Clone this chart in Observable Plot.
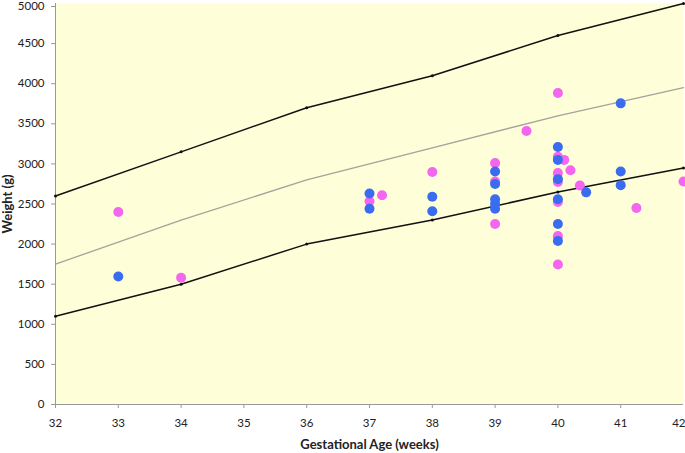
<!DOCTYPE html>
<html>
<head>
<meta charset="utf-8">
<script src="https://cdn.jsdelivr.net/npm/d3@7"></script>
<script src="https://cdn.jsdelivr.net/npm/@observablehq/plot@0.6"></script>
<style>
  html, body { margin: 0; padding: 0; background: #ffffff; }
  #chart svg { display: block; overflow: visible; }
  #chart [aria-label="x-axis label"] text,
  #chart [aria-label="y-axis label"] text { font-weight: bold; font-size: 13px; }
</style>
</head>
<body>
<div id="chart"></div>
<script>
// Reference curves (weeks -> grams)
const refWeeks = [32, 34, 36, 38, 40, 42];
const upperCurve = [2600, 3150, 3700, 4100, 4600, 5000];
const middleCurve = [1750, 2300, 2800, 3200, 3600, 3950];
const lowerCurve = [1100, 1500, 2000, 2300, 2650, 2950];

// Pink series
const pinkWeeks = [33, 34, 37, 37.2, 38, 39, 39, 39, 39.5, 40, 40, 40.1, 40.2, 40, 40, 40.35, 40, 40, 40, 41.25, 42];
const pinkWeights = [2400, 1580, 2535, 2610, 2900, 3010, 2780, 2250, 3410, 3885, 3090, 3050, 2920, 2885, 2775, 2730, 2525, 2100, 1745, 2450, 2780];

// Blue series
const blueWeeks = [33, 37, 37, 38, 38, 39, 39, 39, 39, 39, 40, 40, 40, 40, 40, 40, 40.45, 41, 41, 41];
const blueWeights = [1595, 2630, 2440, 2590, 2410, 2905, 2750, 2560, 2500, 2440, 3210, 3050, 2810, 2560, 2250, 2040, 2645, 3755, 2905, 2735];

// Axis ticks
const xTicks = [32, 33, 34, 35, 36, 37, 38, 39, 40, 41];
const xLastTick = [42];
const yTicks = [0, 500, 1000, 1500, 2000, 2500, 3000, 3500, 4000, 4500];
const yTopTick = [5000];

const curve = (ys) => refWeeks.map((w, i) => ({x: w, y: ys[i]}));
const pts = (xs, ys) => xs.map((w, i) => ({x: w, y: ys[i]}));

const upper = curve(upperCurve), middle = curve(middleCurve), lower = curve(lowerCurve);
const pink = pts(pinkWeeks, pinkWeights), blue = pts(blueWeeks, blueWeights);

const chart = Plot.plot({
  width: 685,
  height: 453,
  marginLeft: 55,
  marginRight: 2,
  marginTop: 3,
  marginBottom: 49,
  style: {fontFamily: "Lato, 'Open Sans', sans-serif", fontSize: "11.5px", color: "#222", background: "#ffffff", overflow: "visible"},
  x: {domain: [32, 42]},
  y: {domain: [0, 5000]},
  marks: [
    Plot.frame({fill: "#fefed8", stroke: null}),
    Plot.axisX({ticks: xTicks, tickSize: 4, tickPadding: 10, stroke: "#999", tickFormat: d3.format("d"),
      label: "Gestational Age (weeks)", labelAnchor: "center", labelArrow: "none", labelOffset: 44}),
    Plot.axisX({ticks: xLastTick, tickSize: 4, tickPadding: 10, stroke: "#999", tickFormat: d3.format("d"),
      textAnchor: "end", dx: 2, label: null}),
    Plot.axisY({ticks: yTicks, tickSize: 4, tickPadding: 7, stroke: "#999", tickFormat: d3.format("d"),
      label: "Weight (g)", labelAnchor: "center", labelArrow: "none", labelOffset: 53}),
    Plot.axisY({ticks: yTopTick, tickSize: 4, tickPadding: 7, stroke: "#999", tickFormat: d3.format("d"),
      dy: 3, label: null}),
    Plot.ruleX([32], {stroke: "#999"}),
    Plot.ruleY([0], {stroke: "#999"}),
    Plot.line(middle, {x: "x", y: "y", stroke: "#a3a39b", strokeWidth: 1.3}),
    Plot.line(upper, {x: "x", y: "y", stroke: "#111", strokeWidth: 1.5}),
    Plot.line(lower, {x: "x", y: "y", stroke: "#111", strokeWidth: 1.5}),
    Plot.dot(upper, {x: "x", y: "y", r: 1.5, fill: "#111"}),
    Plot.dot(lower, {x: "x", y: "y", r: 1.5, fill: "#111"}),
    Plot.dot(pink, {x: "x", y: "y", r: 5, fill: "#f566f0"}),
    Plot.dot(blue, {x: "x", y: "y", r: 5, fill: "#3a6cf0"})
  ]
});
document.getElementById("chart").appendChild(chart);
</script>
</body>
</html>
